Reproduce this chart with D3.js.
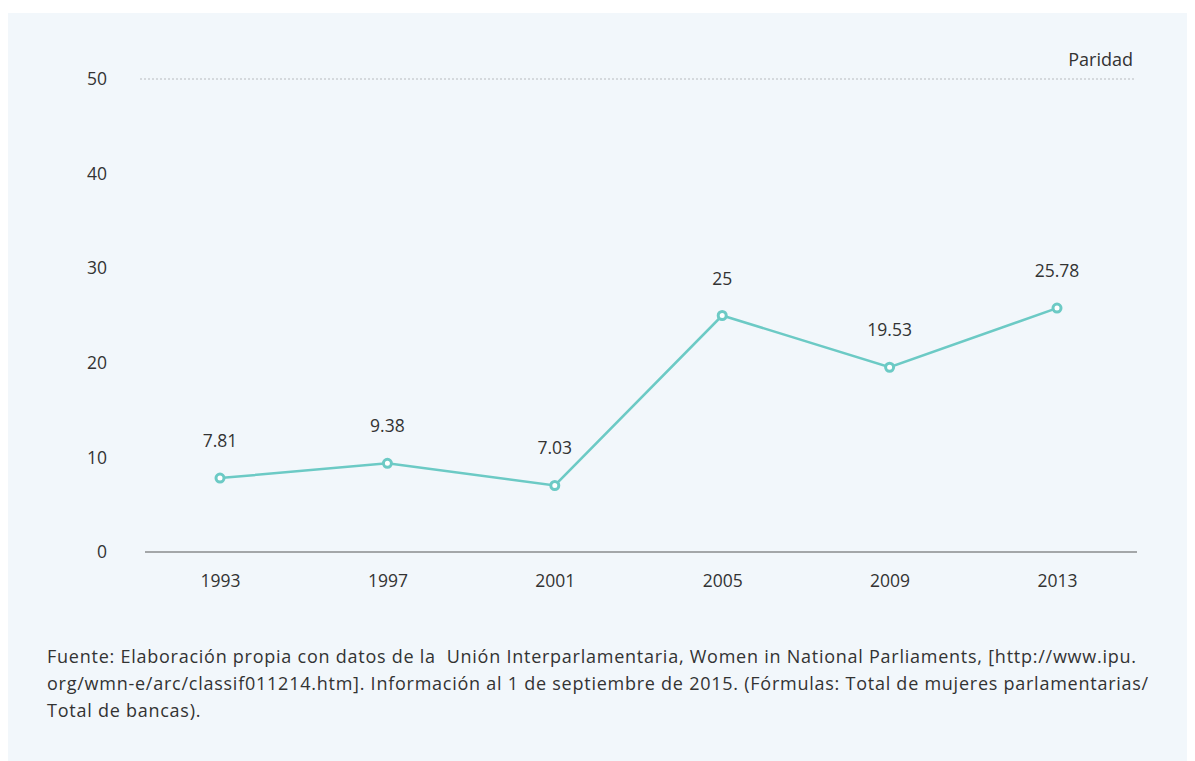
<!DOCTYPE html>
<html>
<head>
<meta charset="utf-8">
<script src="https://cdn.jsdelivr.net/npm/d3@7"></script>
<style>
  body { margin: 0; background: #ffffff; }
  svg { display: block; font-family: "Open Sans", "Noto Sans", sans-serif; }
</style>
</head>
<body>
<svg id="chart"></svg>
<script>
// data
const years = ["1993", "1997", "2001", "2005", "2009", "2013"];
const values = [7.81, 9.38, 7.03, 25, 19.53, 25.78];
const valueLabels = ["7.81", "9.38", "7.03", "25", "19.53", "25.78"];
const yTicks = [0, 10, 20, 30, 40, 50];
const parity = 50;
const parityLabel = "Paridad";
const sourceLines = [
  "Fuente: Elaboración propia con datos de la  Unión Interparlamentaria, Women in National Parliaments, [http://www.ipu.",
  "org/wmn-e/arc/classif011214.htm]. Información al 1 de septiembre de 2015. (Fórmulas: Total de mujeres parlamentarias/",
  "Total de bancas)."
];

const width = 1195, height = 761;
const plot = { left: 145, right: 1137, top: 79, bottom: 552 };
const lineColor = "#6ccac5";
const textColor = "#333333";

const svg = d3.select("#chart").attr("width", width).attr("height", height);

// panel background
svg.append("rect")
  .attr("x", 8).attr("y", 13)
  .attr("width", 1179).attr("height", 748)
  .attr("fill", "#f2f7fb");

// scales
const x = d3.scalePoint().domain(years).range([220, 1057]);
const y = d3.scaleLinear().domain([0, 50]).range([plot.bottom, plot.top]);

// y axis labels (no line)
svg.append("g")
  .selectAll("text")
  .data(yTicks)
  .join("text")
  .attr("x", 107)
  .attr("y", d => y(d))
  .attr("dy", "0.35em")
  .attr("text-anchor", "end")
  .attr("fill", textColor)
  .style("font-size", "17.5px")
  .text(d => d);

// parity reference line
svg.append("line")
  .attr("x1", 140).attr("x2", 1134)
  .attr("y1", y(parity)).attr("y2", y(parity))
  .attr("stroke", "#b8bcc0")
  .attr("stroke-width", 1.2)
  .attr("stroke-dasharray", "2,2");

svg.append("text")
  .attr("x", 1133)
  .attr("y", y(parity) - 13)
  .attr("text-anchor", "end")
  .attr("fill", textColor)
  .style("font-size", "18px")
  .text(parityLabel);

// x axis labels
const xAxis = d3.axisBottom(x).tickSize(0).tickPadding(20);
const xg = svg.append("g")
  .attr("transform", `translate(0,${plot.bottom})`)
  .call(xAxis);
xg.select(".domain").remove();
xg.selectAll("text")
  .attr("fill", textColor)
  .attr("dy", "0.85em")
  .style("font-size", "17.5px")
  .style("font-family", "\"Open Sans\", \"Noto Sans\", sans-serif");

// baseline
svg.append("line")
  .attr("x1", plot.left).attr("x2", plot.right)
  .attr("y1", plot.bottom).attr("y2", plot.bottom)
  .attr("stroke", "#8a8c8e")
  .attr("stroke-width", 1.5);

// line
const points = years.map((yr, i) => ({ year: yr, value: values[i], label: valueLabels[i] }));
const line = d3.line().x(d => x(d.year)).y(d => y(d.value));

svg.append("path")
  .datum(points)
  .attr("d", line)
  .attr("fill", "none")
  .attr("stroke", lineColor)
  .attr("stroke-width", 2.5);

svg.append("g")
  .selectAll("circle")
  .data(points)
  .join("circle")
  .attr("cx", d => x(d.year))
  .attr("cy", d => y(d.value))
  .attr("r", 4)
  .attr("fill", "#ffffff")
  .attr("stroke", lineColor)
  .attr("stroke-width", 3);

svg.append("g")
  .selectAll("text")
  .data(points)
  .join("text")
  .attr("x", d => x(d.year))
  .attr("y", d => y(d.value) - 31)
  .attr("text-anchor", "middle")
  .attr("fill", textColor)
  .style("font-size", "17.5px")
  .text(d => d.label);

// source note
svg.append("g")
  .selectAll("text")
  .data(sourceLines)
  .join("text")
  .attr("x", 47)
  .attr("y", (d, i) => 663 + i * 27)
  .attr("fill", textColor)
  .style("font-size", "18px")
  .style("letter-spacing", "0.75px")
  .style("white-space", "pre")
  .text(d => d);
</script>
</body>
</html>
